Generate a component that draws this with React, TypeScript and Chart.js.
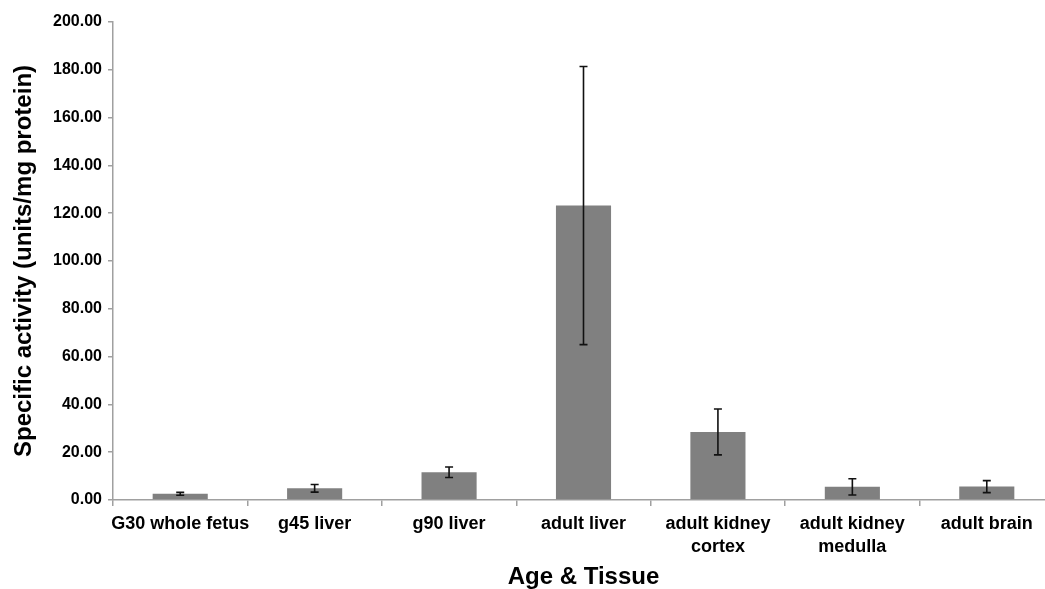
import React, { useEffect, useRef } from "react";
import { Chart, registerables } from "chart.js";

Chart.register(...registerables);

const categories: (string | string[])[] = [
  "G30 whole fetus",
  "g45 liver",
  "g90 liver",
  "adult liver",
  ["adult kidney", "cortex"],
  ["adult kidney", "medulla"],
  "adult brain",
];
const activityMeans = [2.6, 4.9, 11.6, 123.2, 28.5, 5.5, 5.6];
const activityErrors = [0.6, 1.6, 2.2, 58.2, 9.6, 3.4, 2.5];
const yTickValues = [0, 20, 40, 60, 80, 100, 120, 140, 160, 180, 200];

const FONT = "'Liberation Sans', Arial, Helvetica, sans-serif";

const errorBarPlugin = {
  id: "errorBars",
  afterDatasetsDraw(chart: any) {
    const meta = chart.getDatasetMeta(0);
    const yScale = chart.scales.y;
    const ctx = chart.ctx;
    ctx.save();
    ctx.strokeStyle = "#111";
    ctx.lineWidth = 1.6;
    meta.data.forEach((bar: any, i: number) => {
      const v = activityMeans[i];
      const e = activityErrors[i];
      const x = bar.x;
      const yTop = yScale.getPixelForValue(v + e);
      const yBot = yScale.getPixelForValue(v - e);
      ctx.beginPath();
      ctx.moveTo(x, yTop);
      ctx.lineTo(x, yBot);
      ctx.moveTo(x - 4, yTop);
      ctx.lineTo(x + 4, yTop);
      ctx.moveTo(x - 4, yBot);
      ctx.lineTo(x + 4, yBot);
      ctx.stroke();
    });
    ctx.restore();
  },
};

export default function App() {
  const canvasRef = useRef<HTMLCanvasElement | null>(null);

  useEffect(() => {
    if (!canvasRef.current) return;
    const chart = new Chart(canvasRef.current, {
      type: "bar",
      data: {
        labels: categories as any,
        datasets: [
          {
            data: activityMeans,
            backgroundColor: "#808080",
            borderWidth: 0,
            barPercentage: 0.41,
            categoryPercentage: 1,
          },
        ],
      },
      options: {
        animation: false,
        responsive: false,
        maintainAspectRatio: false,
        layout: { padding: { left: 0, top: 22, right: 8, bottom: 0 } },
        plugins: {
          legend: { display: false },
          tooltip: { enabled: false },
        },
        scales: {
          x: {
            offset: true,
            afterFit: (scale: any) => {
              scale.height = 92;
            },
            grid: {
              offset: true,
              drawOnChartArea: false,
              drawTicks: true,
              tickLength: 6,
              color: "#a0a0a0",
              lineWidth: 1.5,
            },
            border: { color: "#a0a0a0", width: 1.5 },
            ticks: {
              color: "#000",
              padding: 7,
              maxRotation: 0,
              autoSkip: false,
              font: { family: FONT, size: 18, weight: "bold", lineHeight: 1.25 },
            },
            title: {
              display: true,
              text: "Age & Tissue",
              color: "#000",
              padding: { top: 0, bottom: 0 },
              font: { family: FONT, size: 24, weight: "bold", lineHeight: 1.2 },
            },
          },
          y: {
            min: 0,
            max: 200,
            afterFit: (scale: any) => {
              scale.width = 113;
            },
            afterBuildTicks: (scale: any) => {
              scale.ticks = yTickValues.map((v) => ({ value: v }));
            },
            grid: {
              drawOnChartArea: false,
              drawTicks: true,
              tickLength: 5,
              color: "#a0a0a0",
              lineWidth: 1.5,
            },
            border: { color: "#a0a0a0", width: 1.5 },
            ticks: {
              color: "#000",
              padding: 6,
              font: { family: FONT, size: 16, weight: "bold" },
              callback: (v: any) => Number(v).toFixed(2),
            },
            title: {
              display: true,
              text: "Specific activity (units/mg protein)",
              color: "#000",
              padding: { top: 10, bottom: 0 },
              font: { family: FONT, size: 24, weight: "bold", lineHeight: 1.2 },
            },
          },
        },
      },
      plugins: [errorBarPlugin],
    });
    return () => chart.destroy();
  }, []);

  return (
    <div
      style={{
        position: "fixed",
        left: 0,
        top: 0,
        width: 1062,
        height: 592,
        background: "#fff",
      }}
    >
      <canvas ref={canvasRef} width={1062} height={592} style={{ display: "block" }} />
    </div>
  );
}
